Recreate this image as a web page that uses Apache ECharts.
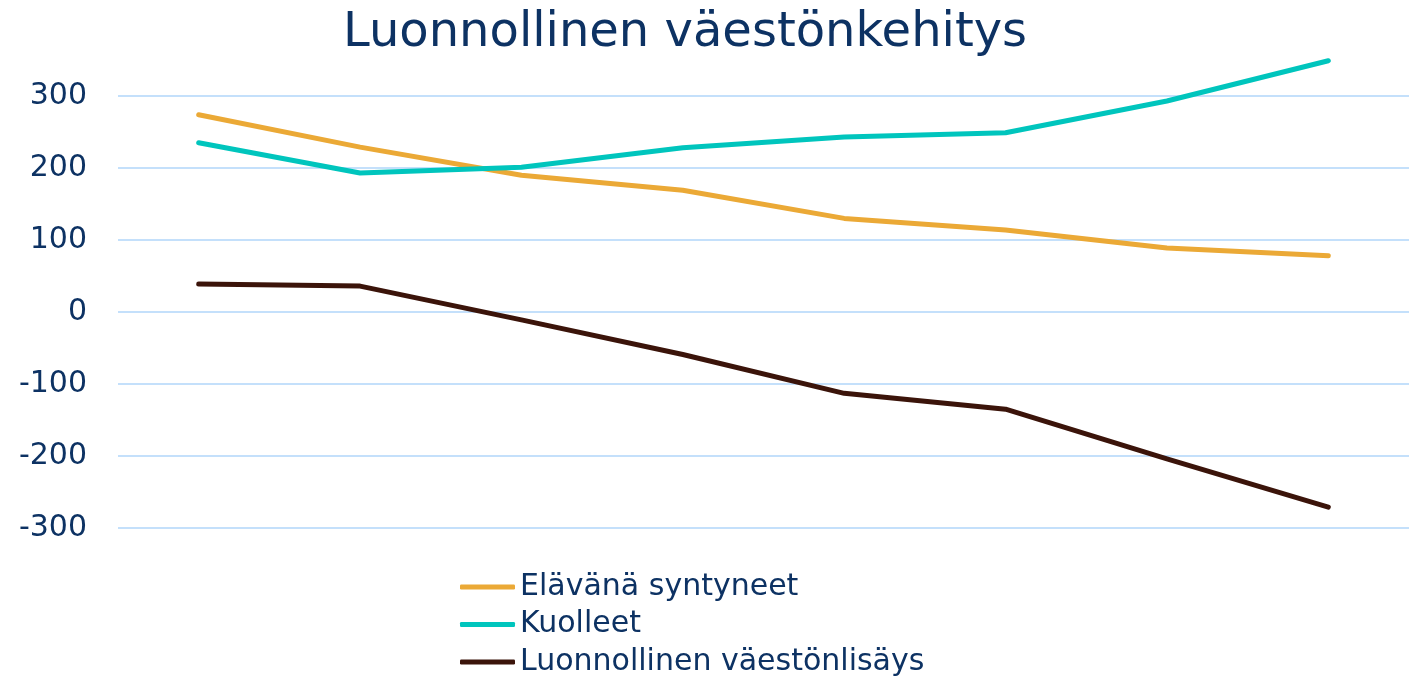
<!DOCTYPE html>
<html>
<head>
<meta charset="utf-8">
<script src="https://cdn.jsdelivr.net/npm/echarts@6/dist/echarts.min.js"></script>
<style>
html,body{margin:0;padding:0;background:#fff;}
#chart{width:1409px;height:678px;}
</style>
</head>
<body>
<div id="chart"></div>
<script>
const categories = ['1', '2', '3', '4', '5', '6', '7', '8'];
const births = [274, 229, 190, 169, 130, 114, 89, 78];
const deaths = [235, 193, 201, 228, 243, 249, 293, 349];
const naturalIncrease = [39, 36, -11, -59, -113, -135, -204, -271];
const seriesNames = ['Elävänä syntyneet', 'Kuolleet', 'Luonnollinen väestönlisäys'];
const yTicks = { min: -300, max: 300, interval: 100 };

const textColor = '#0d3263';
const font = '"DejaVu Sans", "Noto Sans", sans-serif';
const colors = ['#eba936', '#00c5bd', '#3b140a'];

const chart = echarts.init(document.getElementById('chart'));
const values = [births, deaths, naturalIncrease];
chart.setOption({
  animation: false,
  title: {
    text: 'Luonnollinen väestönkehitys',
    left: 338,
    top: 5,
    textStyle: { color: textColor, fontFamily: font, fontSize: 48, fontWeight: 'normal' }
  },
  legend: {
    orient: 'vertical',
    left: 460,
    top: 572,
    padding: 0,
    icon: 'roundRect',
    itemWidth: 55,
    itemHeight: 5,
    itemGap: 7.5,
    selectedMode: false,
    data: seriesNames,
    textStyle: { color: textColor, fontFamily: font, fontSize: 30, lineHeight: 30, padding: 0 }
  },
  grid: { left: 118, right: -13, top: 96, bottom: 150, containLabel: false },
  xAxis: {
    type: 'category',
    data: categories,
    boundaryGap: true,
    axisLine: { show: false },
    axisTick: { show: false },
    axisLabel: { show: false },
    splitLine: { show: false }
  },
  yAxis: {
    type: 'value',
    min: yTicks.min,
    max: yTicks.max,
    interval: yTicks.interval,
    axisLine: { show: false },
    axisTick: { show: false },
    axisLabel: { color: textColor, fontFamily: font, fontSize: 30, margin: 31 },
    splitLine: { lineStyle: { color: '#c4e0fb', width: 2 } }
  },
  series: seriesNames.map((name, i) => ({
    name: name,
    type: 'line',
    data: values[i],
    symbol: 'none',
    clip: false,
    color: colors[i],
    lineStyle: { width: 5, color: colors[i], cap: 'round', join: 'round' }
  }))
});
</script>
</body>
</html>
